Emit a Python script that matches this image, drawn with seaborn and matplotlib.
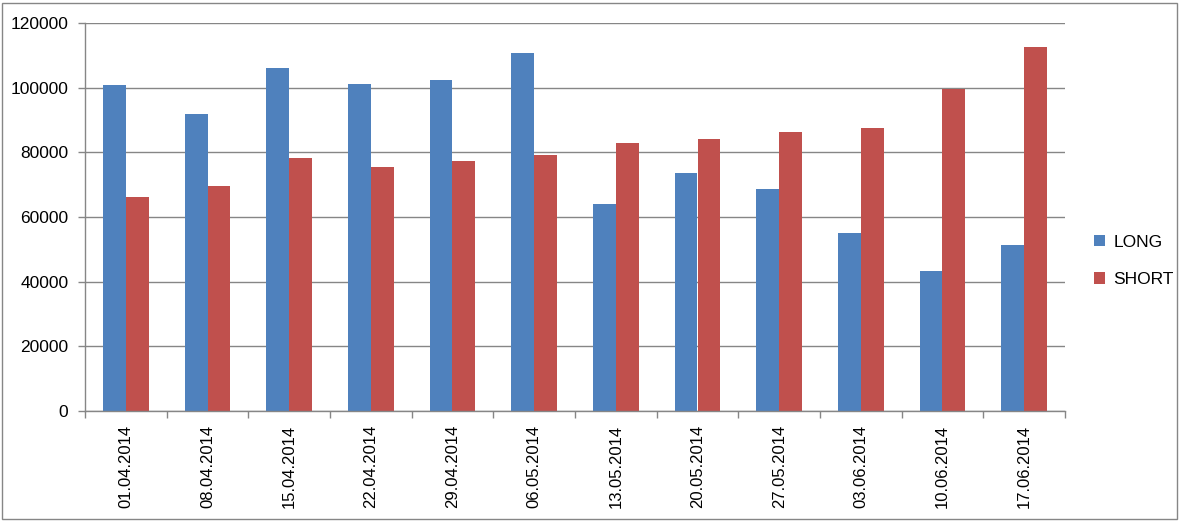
import matplotlib
matplotlib.use("Agg")
import matplotlib.pyplot as plt
import seaborn as sns
import pandas as pd
from matplotlib.patches import Rectangle

dates = ["01.04.2014", "08.04.2014", "15.04.2014", "22.04.2014", "29.04.2014", "06.05.2014",
         "13.05.2014", "20.05.2014", "27.05.2014", "03.06.2014", "10.06.2014", "17.06.2014"]
long_vals = [100800, 91900, 106100, 101100, 102400, 110700, 64000, 73600, 68700, 55100, 43300, 51300]
short_vals = [66200, 69600, 78300, 75500, 77300, 79200, 82900, 84100, 86300, 87500, 99600, 112600]
series = ["LONG", "SHORT"]
colors = ["#4F81BD", "#C0504D"]
yticks = [0, 20000, 40000, 60000, 80000, 100000, 120000]

df = pd.DataFrame({
    "date": dates * 2,
    "value": long_vals + short_vals,
    "series": [series[0]] * len(dates) + [series[1]] * len(dates),
})

sns.set_theme(style="white")
plt.rcParams["font.family"] = ["Liberation Sans", "DejaVu Sans"]
plt.rcParams["text.color"] = "black"

fig = plt.figure(figsize=(11.8, 5.21), dpi=100)
ax = fig.add_axes([85 / 1180, 1 - 411 / 521, (1065 - 85) / 1180, (411 - 23) / 521])

sns.barplot(data=df, x="date", y="value", hue="series", order=dates, hue_order=series,
            palette=colors, saturation=1, width=0.56, gap=0, ax=ax, errorbar=None,
            edgecolor="none", linewidth=0)

grid_c = "#868686"
ax.set_ylim(0, 120000)
ax.set_xlim(-0.5, len(dates) - 0.5)
ax.set_yticks(yticks)
ax.set_yticklabels([str(v) for v in yticks], fontsize=12.5, color="black")
ax.yaxis.grid(True, color=grid_c, linewidth=1)
ax.set_axisbelow(True)
ax.set_xlabel("")
ax.set_ylabel("")

ax.set_xticks(range(len(dates)))
ax.set_xticklabels(dates, rotation=90, fontsize=12, color="black")
ax.set_xticks([i - 0.5 for i in range(len(dates) + 1)], minor=True)
ax.tick_params(axis="x", which="major", length=0, pad=10)
ax.tick_params(axis="x", which="minor", length=5, width=1, color=grid_c, direction="out", bottom=True)
ax.tick_params(axis="y", which="major", length=5, width=1, color=grid_c, direction="out", left=True, pad=7)

for s in ["right", "top"]:
    ax.spines[s].set_visible(False)
for s in ["left", "bottom"]:
    ax.spines[s].set_color(grid_c)
    ax.spines[s].set_linewidth(1)

leg = ax.legend(loc="center left", bbox_to_anchor=(1078 / 1180, 1 - 261 / 521),
                bbox_transform=fig.transFigure, frameon=False, fontsize=12.5,
                handlelength=0.65, handleheight=0.65, handletextpad=0.5, labelspacing=1.3)
for t in leg.get_texts():
    t.set_color("black")

fig.patches.append(Rectangle((2 / 1180, 2 / 521), 1175 / 1180, 516 / 521,
                             transform=fig.transFigure, fill=False,
                             edgecolor="#868686", linewidth=1))

fig.savefig("out.png", dpi=100)
